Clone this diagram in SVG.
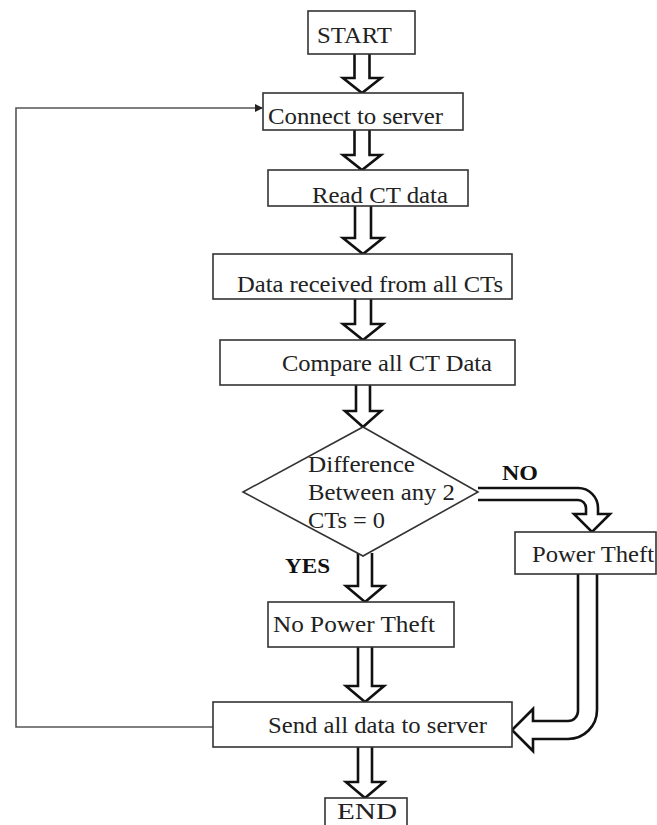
<svg xmlns="http://www.w3.org/2000/svg" width="657" height="825" viewBox="0 0 657 825">
<style>
.box{fill:#fff;stroke:#333;stroke-width:1.6}
.t{font-family:"Liberation Serif","Times New Roman",serif;font-size:24px;fill:#222}
.b{font-family:"Liberation Serif","Times New Roman",serif;font-size:21px;font-weight:bold;fill:#111}
.arr{fill:#fff;stroke:#111;stroke-width:2.6;stroke-linejoin:miter}
.loop{fill:none;stroke:#555;stroke-width:1.6}
</style>
<defs>
<marker id="ah" markerWidth="8" markerHeight="8" refX="7" refY="4" orient="auto" markerUnits="userSpaceOnUse">
<path d="M0,0 L8,4 L0,8 Z" fill="#222"/>
</marker>
</defs>
<rect width="657" height="825" fill="#fff"/>
<g id="connectors">
<path class="arr" d="M354.5,54 V78 H343 L362,93 L381,78 H369.5 V54"/>
<path class="arr" d="M354.5,130 V155 H343 L362,170 L381,155 H369.5 V130"/>
<path class="arr" d="M355,206 V238 H343 L363,254 L383,238 H371 V206"/>
<path class="arr" d="M355,299 V324 H343 L363,340 L383,324 H371 V299"/>
<path class="arr" d="M356,385 V411 H345 L363,427 L381,411 H370 V385"/>
<path class="arr" d="M358,553 V586 H346 L365,602 L384,586 H372 V553"/>
<path class="arr" d="M358,647 V686 H346 L365,702 L384,686 H372 V647"/>
<path class="arr" d="M358,747 V782 H346 L365,798 L384,782 H372 V747"/>
<path class="arr" d="M478,488 H578 A20,20 0 0 1 598,508 V514 H610 L592,532 L574,514 H586 V508 A8,8 0 0 0 578,500 H478"/>
<path class="arr" d="M578,574 V711 A10,10 0 0 1 568,721 H533 V709 L512,730 L533,751 V739 H568 A29,29 0 0 0 597,710 V574"/>
<path class="loop" d="M213,727 H16 V108 H262" marker-end="url(#ah)"/>
</g>
<g id="start"><rect class="box" x="308" y="11" width="107" height="43"/><text class="t" x="317" y="43" textLength="75" lengthAdjust="spacingAndGlyphs">START</text></g>
<g id="connect"><rect class="box" x="263" y="93" width="200" height="37"/><text class="t" x="268" y="124" textLength="175" lengthAdjust="spacingAndGlyphs">Connect to server</text></g>
<g id="read"><rect class="box" x="268" y="170" width="200" height="36"/><text class="t" x="312" y="203" textLength="136" lengthAdjust="spacingAndGlyphs">Read CT data</text></g>
<g id="received"><rect class="box" x="213" y="254" width="299" height="45"/><text class="t" x="237" y="292" textLength="266" lengthAdjust="spacingAndGlyphs">Data received from all CTs</text></g>
<g id="compare"><rect class="box" x="220" y="340" width="295" height="45"/><text class="t" x="282" y="371" textLength="210" lengthAdjust="spacingAndGlyphs">Compare all CT Data</text></g>
<g id="decision"><polygon class="box" points="363,427 478,492 363,556 243,492"/>
<text class="t" x="308" y="472" textLength="107" lengthAdjust="spacingAndGlyphs">Difference</text>
<text class="t" x="308" y="500" textLength="147" lengthAdjust="spacingAndGlyphs">Between any 2</text>
<text class="t" x="308" y="528" textLength="77" lengthAdjust="spacingAndGlyphs">CTs = 0</text></g>
<g id="label-no"><text class="b" x="502" y="480" textLength="36" lengthAdjust="spacingAndGlyphs">NO</text></g>
<g id="label-yes"><text class="b" x="285" y="573" textLength="45" lengthAdjust="spacingAndGlyphs">YES</text></g>
<g id="theft"><rect class="box" x="515" y="532" width="141" height="42"/><text class="t" x="532" y="562" textLength="122" lengthAdjust="spacingAndGlyphs">Power Theft</text></g>
<g id="notheft"><rect class="box" x="268" y="602" width="186" height="45"/><text class="t" x="273" y="632" textLength="162" lengthAdjust="spacingAndGlyphs">No Power Theft</text></g>
<g id="send"><rect class="box" x="213" y="702" width="299" height="45"/><text class="t" x="268" y="733" textLength="219" lengthAdjust="spacingAndGlyphs">Send all data to server</text></g>
<g id="end"><rect class="box" x="325" y="798" width="82" height="40"/><text class="t" x="337" y="819" font-size="22" textLength="60" lengthAdjust="spacingAndGlyphs">END</text></g>
</svg>
